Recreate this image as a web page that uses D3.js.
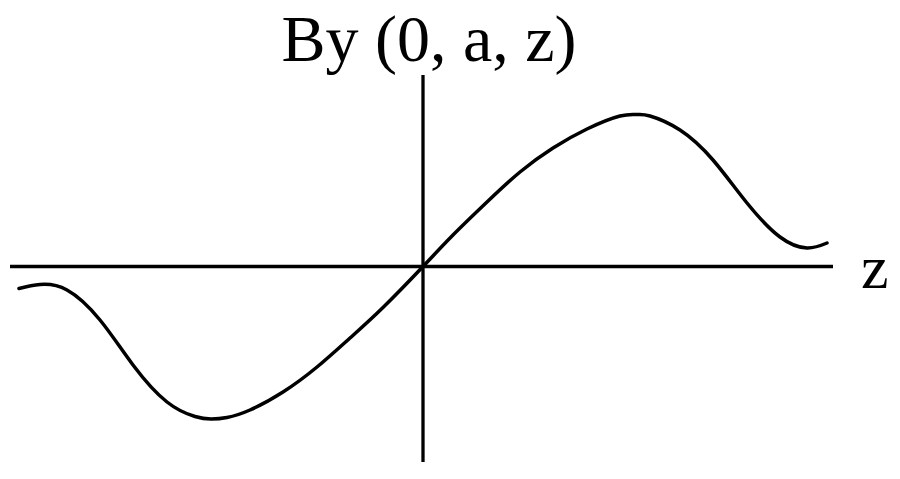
<!DOCTYPE html>
<html>
<head>
<meta charset="utf-8">
<script src="https://cdn.jsdelivr.net/npm/d3@7"></script>
<style>
	html, body { margin: 0; padding: 0; background: #fff; }
	#diagram1 { width: 900px; height: 479px; }
	text { font-family: "Liberation Serif", "DejaVu Serif", serif; fill: #000; }
</style>
</head>
<body>
<div id="diagram1"></div>
<script>
// z values (arbitrary units) and By values
var zValues = [-4.04, -3.83, -3.56, -3.23, -2.90, -2.56, -2.28, -2.12, -1.96, -1.73, -1.40, -1.06, -0.73, -0.40, 0,
	0.30, 0.64, 0.97, 1.30, 1.64, 1.97, 2.14, 2.27, 2.57, 2.90, 3.24, 3.57, 3.84, 4.04];
var byValues = [-0.22, -0.18, -0.235, -0.535, -0.985, -1.355, -1.50, -1.525, -1.51, -1.435, -1.255, -1.005, -0.715, -0.41, 0,
	0.315, 0.645, 0.945, 1.185, 1.375, 1.505, 1.52, 1.505, 1.365, 1.065, 0.635, 0.295, 0.185, 0.235];
// extent of the two drawn axes
var zAxisRange = [-4.13, 4.10];
var byAxisRange = [-1.955, 1.915];
var titleText = 'By (0, a, z)';
var zLabel = 'z';

function createSketch(){
	var
	CHART_WIDTH = document.getElementById('diagram1').offsetWidth,
	CHART_HEIGHT = document.getElementById('diagram1').offsetHeight;
	var
	ORIGIN_X = 423,   // where the axes cross
	ORIGIN_Y = 266.5,
	UNIT = 100;       // pixels per unit on both axes

	var svg = d3
	.select('#diagram1')
	.append('svg')
	.attr('width', CHART_WIDTH)
	.attr('height', CHART_HEIGHT)
	;

	var x = d3.scaleLinear()
	.domain(zAxisRange)
	.range([ORIGIN_X + zAxisRange[0]*UNIT, ORIGIN_X + zAxisRange[1]*UNIT]);
	var y = d3.scaleLinear()
	.domain(byAxisRange)
	.range([ORIGIN_Y - byAxisRange[0]*UNIT, ORIGIN_Y - byAxisRange[1]*UNIT]);

	// horizontal axis (z)
	svg.append('line')
	.attr('x1', x(zAxisRange[0]))
	.attr('x2', x(zAxisRange[1]))
	.attr('y1', y(0))
	.attr('y2', y(0))
	.attr('stroke', '#000')
	.attr('stroke-width', 3.3);

	// vertical axis (By)
	svg.append('line')
	.attr('x1', x(0))
	.attr('x2', x(0))
	.attr('y1', y(byAxisRange[0]))
	.attr('y2', y(byAxisRange[1]))
	.attr('stroke', '#000')
	.attr('stroke-width', 3.3);

	var data = zValues.map(function(z, i){ return {z: z, by: byValues[i]}; });
	// natural spline keeps the hand-drawn curve smooth through the read points
	var line = d3.line()
	.x(function(d) { return x(d.z); })
	.y(function(d) { return y(d.by); })
	.curve(d3.curveNatural);

	svg.append('path')
	.datum(data)
	.attr('fill', 'none')
	.attr('stroke', '#000')
	.attr('stroke-width', 3.5)
	.attr('stroke-linecap', 'round')
	.attr('d', line);

	svg.append('text')
	.attr('x', 429)
	.attr('y', 61)
	.attr('text-anchor', 'middle')
	.attr('font-size', 66)
	.text(titleText);

	svg.append('text')
	.attr('x', x(zAxisRange[1]) + 28)
	.attr('y', 288)
	.attr('font-size', 62)
	.text(zLabel);
}

createSketch();
</script>
</body>
</html>
